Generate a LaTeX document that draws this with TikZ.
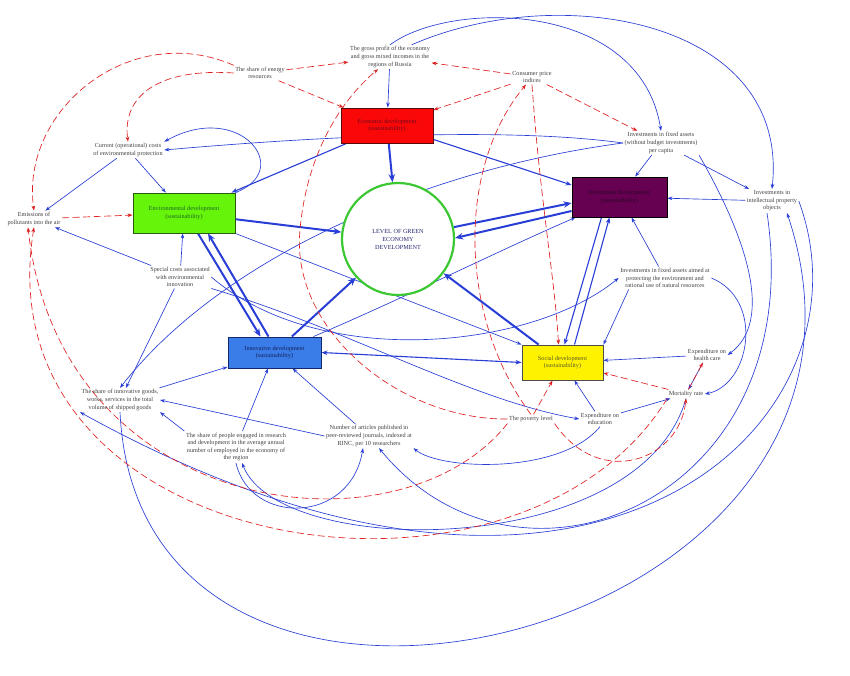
\documentclass[tikz,border=0pt]{standalone}
\usepackage{fontspec}
\setmainfont{Liberation Serif}
\usetikzlibrary{arrows.meta,calc}
\pgfdeclarelayer{bg}
\pgfsetlayers{bg,main}
\definecolor{blueC}{RGB}{40,62,214}
\definecolor{redC}{RGB}{222,30,30}
\definecolor{econred}{RGB}{250,8,8}
\definecolor{econdk}{RGB}{90,10,10}
\definecolor{econtx}{RGB}{110,10,30}
\definecolor{envgreen}{RGB}{102,245,10}
\definecolor{envdk}{RGB}{40,90,20}
\definecolor{envtx}{RGB}{30,100,40}
\definecolor{invpur}{RGB}{102,0,80}
\definecolor{invtx}{RGB}{40,10,40}
\definecolor{innblue}{RGB}{58,125,232}
\definecolor{inndk}{RGB}{20,40,110}
\definecolor{inntx}{RGB}{20,30,90}
\definecolor{soctx}{RGB}{90,90,40}
\definecolor{circg}{RGB}{60,200,50}
\definecolor{navyt}{RGB}{40,40,110}
\begin{document}
\begin{tikzpicture}[x=1pt,y=-1pt,
  lbl/.style={font=\fontsize{6.2}{7.6}\selectfont, align=center, text=black!75, inner sep=1.5pt},
  box/.style={draw, line width=0.9pt, font=\fontsize{6.2}{7.6}\selectfont, align=center, inner sep=1pt},
  bl/.style={draw=blueC, line width=0.65pt, -{Stealth[length=5pt,width=3.6pt]}},
  bm/.style={draw=blueC, line width=1.1pt, -{Stealth[length=6pt,width=4.5pt]}},
  thk/.style={draw=blueC, line width=2pt, -{Stealth[length=8pt,width=6.5pt]}},
  rd/.style={draw=redC, line width=0.65pt, dash pattern=on 7pt off 3.5pt, -{Stealth[length=5pt,width=3.6pt]}}]
\useasboundingbox (0,0) rectangle (850,676);

% nodes
\node[lbl] (energy) at (260,73) {The share of energy\\resources};
\node[lbl] (gross) at (390,57) {The gross profit of the economy\\and gross mixed incomes in the\\regions of Russia};
\node[lbl] (cpi) at (532,77) {Consumer price\\indices};
\node[box, fill=econred, draw=econdk, text=econtx, minimum width=92pt, minimum height=35pt] (econ) at (387,125.5) {Economic development\\(sustainability)};
\node[lbl] (curops) at (128,150) {Current (operational) costs\\of environmental protection};
\node[lbl] (emis) at (34,219) {Emissions of\\pollutants into the air};
\node[box, fill=envgreen, draw=envdk, text=envtx, minimum width=102pt, minimum height=40pt] (env) at (184,213) {Environmental development\\(sustainability)};
\node[lbl] (invfa) at (661,143) {Investments in fixed assets\\(without budget investments)\\per capita};
\node[box, fill=invpur, draw=black, text=invtx, minimum width=95pt, minimum height=40pt] (invb) at (619.5,197) {Investment development\\(sustainability)};
\node[lbl] (ip) at (772,201) {Investments in\\intellectual property\\objects};
\node[circle, draw=circg, line width=2.2pt, minimum size=112pt, inner sep=0pt, fill=white, font=\fontsize{6.2}{8}\selectfont, align=center, text=navyt] (lvl) at (398,239) {LEVEL OF GREEN\\ECONOMY\\DEVELOPMENT};
\node[lbl] (special) at (180,277) {Special costs associated\\with environmental\\innovation};
\node[lbl] (invenv) at (665,278) {Investments in fixed assets aimed at\\protecting the environment and\\rational use of natural resources};
\node[box, fill=innblue, draw=inndk, text=inntx, minimum width=93pt, minimum height=31pt] (inn) at (274.5,352.5) {Innovative development\\(sustainability)};
\node[box, fill=yellow, draw=black!70, text=soctx, minimum width=81pt, minimum height=35pt] (soc) at (562.5,362.5) {Social development\\(sustainability)};
\node[lbl] (health) at (707,355) {Expenditure on\\health care};
\node[lbl] (mort) at (686,394) {Mortality rate};
\node[lbl] (shinn) at (120,400) {The share of innovative goods,\\works, services in the total\\volume of shipped goods};
\node[lbl] (shpeople) at (236,447) {The share of people engaged in research\\and development in the average annual\\number of employed in the economy of\\the region};
\node[lbl] (articles) at (369,436) {Number of articles published in\\peer-reviewed journals, indexed at\\RINC, per 10 researchers};
\node[lbl] (poverty) at (531,419) {The poverty level};
\node[lbl] (edu) at (600,419) {Expenditure on\\education};

\begin{pgfonlayer}{bg}
\fill[white] (0,0) rectangle (850,676);
% thick
\draw[thk] (econ) -- (lvl);
\draw[thk] (env) -- (lvl);
\draw[thk] (lvl.12) -- ($(invb.west)+(0,6)$);
\draw[thk] ($(invb.west)+(0,14)$) -- (lvl.1);
\draw[thk] (inn) -- (lvl);
\draw[thk] (soc) -- (lvl);
\draw[thk] ($(env.south)+(14,0)$) -- ($(inn.north)+(-14,0)$);
\draw[thk] ($(inn.north)+(-6,0)$) -- ($(env.south)+(24,0)$);
% medium
\draw[bm] ($(econ.south west)+(6,0)$) -- ($(env.north east)+(-4,0)$);
\draw[bm] ($(econ.south east)+(0,-4)$) -- ($(invb.west)+(0,-12)$);
\draw[bm] ($(invb.south)+(-18,0)$) -- ($(soc.north)+(2,0)$);
\draw[bm] ($(soc.north)+(12,0)$) -- ($(invb.south)+(-10,0)$);
\draw[bm, {Stealth[length=6pt,width=4.5pt]}-{Stealth[length=6pt,width=4.5pt]}] (inn.east) -- (soc.west);
% thin
\draw[bl] (gross) -- (econ);
\draw[bl] (curops) -- (env);
\draw[bl] (curops) -- (emis);
\draw[bl] (invfa.west) .. controls (500,126) and (300,138) .. (curops.east);
\draw[bl] (invfa) -- (invb);
\draw[bl] (invfa) -- (ip);
\draw[bl] (invfa.south east) .. controls (745,235) and (775,320) .. (health.east);
\draw[bl] (ip) -- (invb);
\draw[bl] (invenv) -- ($(invb.south)+(12,0)$);
\draw[bl] ($(invenv.south west)+(10,0)$) -- (soc.north east);
\draw[bl] (invenv.east) .. controls (765,300) and (750,385) .. (mort.east);
\draw[bl] (special) -- (env);
\draw[bl] (special) -- (emis);
\draw[bl] (special) -- (shinn);
\draw[bl] (shinn) -- (inn);
\draw[bl] (shpeople) -- (inn);
\draw[bl] (articles) -- (inn);
\draw[bl] (articles.west) -- (shinn.east);
\draw[bl] (shpeople.north west) -- (shinn.south east);
\draw[bl] (health) -- (soc);
\draw[bl] (health) -- (mort);
\draw[bl] (edu) -- (soc);
\draw[bl] (edu) -- (mort);
\draw[bl] (edu.south) .. controls (560,475) and (440,470) .. (articles.south east);
\draw[bl] (special.east) .. controls (320,370) and (530,350) .. (invenv.west);
\draw[bl] (special.south east) .. controls (350,330) and (470,400) .. (edu.west);
\draw[bl] (env.south east) -- (soc.north west);
\draw[bl] ($(inn.north east)+(-8,0)$) .. controls (400,300) and (500,250) .. ($(invb.south west)+(4,0)$);
\draw[bl] (env.north east) .. controls (295,170) and (240,100) .. (curops.north east);
\draw[bl] (gross.north) .. controls (450,0) and (640,0) .. (invfa.north);
\draw[bl] ($(gross.north east)+(-20,0)$) .. controls (560,-20) and (790,20) .. (ip.north);
\draw[bl] (invfa.west) .. controls (420,170) and (220,260) .. (shinn.north);
% big bottom curves
\draw[bl] (shinn.south) .. controls (140,830) and (930,640) .. ($(ip.south)+(15,0)$);
\draw[bl] ($(ip.south)+(-5,0)$) .. controls (810,500) and (520,620) .. ($(articles.south)+(10,0)$);
\draw[bl] (shpeople.south) .. controls (250,525) and (350,525) .. ($(articles.south)+(-6,0)$);
\draw[bl] (mort.south) .. controls (640,560) and (280,560) .. ($(shpeople.south)+(6,0)$);
\draw[bl] (ip.east) .. controls (880,420) and (600,700) .. (shinn.south west);
% red dashed
\draw[rd] (energy) -- (gross);
\draw[rd] (energy) -- (econ);
\draw[rd] (cpi) -- (gross);
\draw[rd] (cpi) -- (econ);
\draw[rd] (cpi) -- (invfa);
\draw[rd] (cpi.south) .. controls (540,200) and (555,280) .. ($(soc.north)+(-4,0)$);
\draw[rd] (poverty.north) .. controls (460,320) and (455,170) .. ($(cpi.south)+(-6,0)$);
\draw[rd] (poverty.west) .. controls (400,420) and (290,330) .. (300,230) .. controls (305,170) and (330,110) .. ($(gross.south)+(-12,0)$);
\draw[rd] (poverty) -- (soc);
\draw[rd] (mort) -- (soc);
\draw[rd] (mort) -- (health);
\draw[rd] (emis) -- (env);
\draw[rd] (energy.west) .. controls (160,68) and (122,95) .. (curops.north);
\draw[rd] (energy.north west) .. controls (130,20) and (20,110) .. (emis.north);
\draw[rd] (mort.south west) .. controls (520,640) and (-20,560) .. (emis.south);
\draw[rd] (poverty.south west) .. controls (400,560) and (60,520) .. ($(emis.south)+(-6,0)$);
\draw[rd] (poverty.south east) .. controls (600,490) and (680,460) .. (mort.south);
\end{pgfonlayer}
\end{tikzpicture}
\end{document}
